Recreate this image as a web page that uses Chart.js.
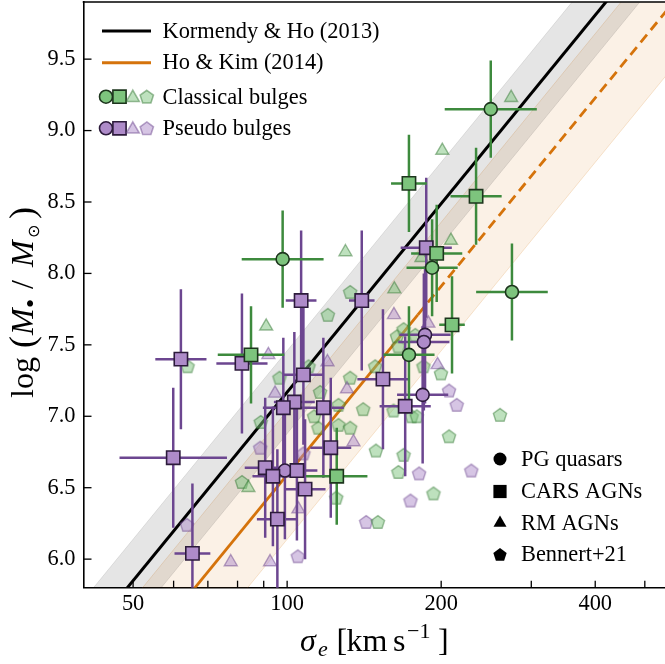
<!DOCTYPE html>
<html>
<head>
<meta charset="utf-8">
<script src="https://cdn.jsdelivr.net/npm/chart.js@4.4.1/dist/chart.umd.min.js"></script>
<style>
  html, body { margin: 0; padding: 0; background: #fff; overflow: hidden; }
  canvas { display: block; }
</style>
</head>
<body>
<canvas id="msigma" width="700" height="664"></canvas>
<script>
// ---- values (sigma in km/s, log M in solar masses) ----

// Kormendy & Ho (2013) and its scatter band
const khSigma = [35, 600];
const khLogM = [5.17, 10.58];
const khBandLo = [4.88, 10.29];
const khBandHi = [5.46, 10.87];

// Ho & Kim (2014): solid over the fitted range, dashed beyond
const hkSolidSigma = [35, 180];
const hkSolidLogM = [4.59, 7.71];
const hkDashSigma = [180, 600];
const hkDashLogM = [7.71, 10.00];
const hkBandSigma = [35, 600];
const hkBandLo = [4.14, 9.55];
const hkBandHi = [5.04, 10.45];

// classical bulges, PG quasars (circles)
const cPgSigma = [250, 98, 192, 275, 173];
const cPgLogM = [9.15, 8.10, 8.04, 7.87, 7.43];
const cPgSigErr = [0.09, 0.08, 0.05, 0.07, 0.05];   // dex
const cPgMErr = [0.34, 0.34, 0.34, 0.34, 0.34];

// classical bulges, CARS AGNs (squares)
const cCarsSigma = [173, 234, 196, 210, 85, 125];
const cCarsLogM = [8.63, 8.54, 8.14, 7.64, 7.43, 6.58];
const cCarsSigErr = [0.035, 0.05, 0.05, 0.025, 0.065, 0.06];
const cCarsMErr = [0.34, 0.34, 0.34, 0.34, 0.34, 0.34];

// pseudo bulges, PG quasars (circles)
const pPgSigma = [186, 185, 184, 99];
const pPgLogM = [7.57, 7.52, 7.15, 6.62];
const pPgSigErr = [0.05, 0.05, 0.05, 0.04];
const pPgMErr = [0.48, 0.48, 0.48, 0.48];

// pseudo bulges, CARS AGNs (squares)
const pCarsSigma = [62.0, 81.6, 106.5, 139.9, 187.0, 107.6, 153.9, 170.1, 117.7, 103.3,
                    98.3, 90.6, 93.8, 104.5, 108.4, 95.7, 121.7, 59.9, 65.3];
const pCarsLogM = [7.40, 7.37, 7.81, 7.81, 8.18, 7.29, 7.26, 7.07, 7.06, 7.10,
                   7.06, 6.64, 6.58, 6.62, 6.49, 6.28, 6.78, 6.71, 6.04];
const pCarsSigErr = [0.05, 0.05, 0.03, 0.025, 0.05, 0.04, 0.05, 0.05, 0.04, 0.04,
                     0.04, 0.04, 0.04, 0.04, 0.04, 0.04, 0.04, 0.105, 0.035];
const pCarsMErr = [0.49, 0.49, 0.49, 0.49, 0.49, 0.49, 0.49, 0.49, 0.49, 0.49,
                   0.49, 0.49, 0.49, 0.49, 0.49, 0.49, 0.49, 0.49, 0.49];

// RM AGNs (triangles, no error bars)
const cRmSigma = [274, 201, 209, 130, 91, 162, 183, 84];
const cRmLogM = [9.23, 8.86, 8.23, 8.15, 7.63, 7.89, 8.11, 6.50];
const pRmSigma = [77.6, 92.6, 161.7, 119.9, 91.9, 94.7, 130.9, 134.8, 105.2, 188.8, 196.8];
const pRmLogM = [5.98, 5.98, 7.71, 7.38, 7.43, 7.16, 7.19, 6.82, 6.35, 7.65, 7.36];

// Bennert+21 (pentagons, no error bars)
const cBenSigma = [63.9, 132.8, 120.1, 96.6, 110.1, 132.8, 148.6, 163.9, 168.9, 165.0,
                   81.6, 140.8, 116.0, 112.9, 126.0, 115.1, 126.0, 132.8, 149.1, 168.9,
                   165.0, 161.4, 175.1, 124.7, 150.4, 88.8, 260.6, 207.2, 179.2, 193.2,
                   199.8, 178.0, 184.7];
const cBenLogM = [7.35, 7.87, 7.71, 7.27, 7.35, 7.27, 7.35, 7.56, 7.61, 7.49,
                  6.54, 7.05, 7.17, 7.00, 7.08, 6.92, 6.94, 6.92, 6.76, 6.73,
                  6.61, 7.04, 7.00, 6.43, 6.26, 6.96, 7.01, 6.86, 7.00, 6.46,
                  7.30, 7.57, 7.35];
const pBenSigma = [63.7, 88.6, 107.6, 104.9, 142.7, 174.2, 207.2, 214.5, 181.1, 229.0];
const pBenLogM = [6.24, 6.78, 6.74, 6.02, 6.26, 6.41, 7.18, 7.08, 6.60, 6.62];

// axis ticks
const xTickVals = [50, 60, 70, 80, 90, 100, 200, 300, 400, 500];
const xLabelVals = [50, 100, 200, 400];
const yTickVals = [6.0, 6.5, 7.0, 7.5, 8.0, 8.5, 9.0, 9.5];

// ---- styling ----
const SERIF = '"Liberation Serif", "DejaVu Serif", serif';
const GREEN_FILL = '#7dc47d', GREEN_EDGE = '#1d351d', GREEN_BAR = '#3d8a3d';
const PURPLE_FILL = '#ae8bc9', PURPLE_EDGE = '#2c1b3b', PURPLE_BAR = '#6c4690';
const ORANGE = '#d5730b';

function pts(xs, ys) {
  return xs.map((x, i) => ({ x: x, y: ys[i] }));
}

// error bar segments separated by gaps
function errorBars(sig, m, sErr, mErr) {
  const out = [];
  sig.forEach((s, i) => {
    const f = Math.pow(10, sErr[i]);
    out.push({ x: s / f, y: m[i] }, { x: s * f, y: m[i] }, { x: null, y: null });
    out.push({ x: s, y: m[i] - mErr[i] }, { x: s, y: m[i] + mErr[i] }, { x: null, y: null });
  });
  return out;
}

function pentagonPath(g, cx, cy, r) {
  g.beginPath();
  for (let k = 0; k < 5; k++) {
    const a = -Math.PI / 2 + k * 2 * Math.PI / 5;
    const px = cx + r * Math.cos(a), py = cy + r * Math.sin(a);
    if (k === 0) g.moveTo(px, py); else g.lineTo(px, py);
  }
  g.closePath();
}

function makePentagon(r, fill, stroke) {
  const c = document.createElement('canvas');
  const size = Math.ceil(2 * r + 4);
  c.width = size; c.height = size;
  const g = c.getContext('2d');
  pentagonPath(g, size / 2, size / 2 + 0.6, r);
  g.fillStyle = fill; g.fill();
  g.lineWidth = 1.4; g.strokeStyle = stroke; g.stroke();
  return c;
}

const LG_FILL = 'rgba(125,196,125,0.5)', LG_EDGE = 'rgba(40,110,40,0.45)';
const LP_FILL = 'rgba(174,139,201,0.5)', LP_EDGE = 'rgba(100,60,135,0.45)';
const pentGreen = makePentagon(7, LG_FILL, LG_EDGE);
const pentPurple = makePentagon(7, LP_FILL, LP_EDGE);

const lightTri = (fill, edge) => ({
  showLine: false, pointStyle: 'triangle', pointRadius: 7.5,
  pointBackgroundColor: fill, pointBorderColor: edge, pointBorderWidth: 1.4, order: 40
});

const datasets = [
  // bands
  { data: pts(hkBandSigma, hkBandHi), borderColor: 'rgba(213,115,11,0.18)', borderWidth: 1,
    pointRadius: 0, fill: { target: 1 }, backgroundColor: 'rgba(213,115,11,0.10)', order: 100 },
  { data: pts(hkBandSigma, hkBandLo), borderColor: 'rgba(213,115,11,0.18)', borderWidth: 1,
    pointRadius: 0, fill: false, order: 100 },
  { data: pts(khSigma, khBandHi), borderColor: 'rgba(0,0,0,0.10)', borderWidth: 1,
    pointRadius: 0, fill: { target: 3 }, backgroundColor: 'rgba(0,0,0,0.10)', order: 99 },
  { data: pts(khSigma, khBandLo), borderColor: 'rgba(0,0,0,0.10)', borderWidth: 1,
    pointRadius: 0, fill: false, order: 99 },
  // relations
  { data: pts(khSigma, khLogM), borderColor: '#000', borderWidth: 3, pointRadius: 0, order: 50 },
  { data: pts(hkSolidSigma, hkSolidLogM), borderColor: ORANGE, borderWidth: 2.8, pointRadius: 0, order: 50 },
  { data: pts(hkDashSigma, hkDashLogM), borderColor: ORANGE, borderWidth: 2.8, borderDash: [10, 6],
    pointRadius: 0, order: 50 },
  // faint samples
  Object.assign({ data: pts(cRmSigma, cRmLogM) }, lightTri(LG_FILL, LG_EDGE)),
  Object.assign({ data: pts(pRmSigma, pRmLogM) }, lightTri(LP_FILL, LP_EDGE)),
  { data: pts(cBenSigma, cBenLogM), showLine: false, pointStyle: pentGreen, order: 41 },
  { data: pts(pBenSigma, pBenLogM), showLine: false, pointStyle: pentPurple, order: 41 },
  // error bars
  { data: errorBars(pCarsSigma, pCarsLogM, pCarsSigErr, pCarsMErr), borderColor: PURPLE_BAR,
    borderWidth: 2.5, pointRadius: 0, spanGaps: false, order: 30 },
  { data: errorBars(pPgSigma, pPgLogM, pPgSigErr, pPgMErr), borderColor: PURPLE_BAR,
    borderWidth: 2.5, pointRadius: 0, spanGaps: false, order: 30 },
  { data: errorBars(cCarsSigma, cCarsLogM, cCarsSigErr, cCarsMErr), borderColor: GREEN_BAR,
    borderWidth: 2.5, pointRadius: 0, spanGaps: false, order: 29 },
  { data: errorBars(cPgSigma, cPgLogM, cPgSigErr, cPgMErr), borderColor: GREEN_BAR,
    borderWidth: 2.5, pointRadius: 0, spanGaps: false, order: 29 },
  // markers
  { data: pts(pCarsSigma, pCarsLogM), showLine: false, pointStyle: 'rect', pointRadius: 9.4,
    pointBackgroundColor: PURPLE_FILL, pointBorderColor: PURPLE_EDGE, pointBorderWidth: 1.6, order: 10 },
  { data: pts(pPgSigma, pPgLogM), showLine: false, pointStyle: 'circle', pointRadius: 6.5,
    pointBackgroundColor: PURPLE_FILL, pointBorderColor: PURPLE_EDGE, pointBorderWidth: 1.6, order: 10 },
  { data: pts(cCarsSigma, cCarsLogM), showLine: false, pointStyle: 'rect', pointRadius: 9.4,
    pointBackgroundColor: GREEN_FILL, pointBorderColor: GREEN_EDGE, pointBorderWidth: 1.6, order: 9 },
  { data: pts(cPgSigma, cPgLogM), showLine: false, pointStyle: 'circle', pointRadius: 6.5,
    pointBackgroundColor: GREEN_FILL, pointBorderColor: GREEN_EDGE, pointBorderWidth: 1.6, order: 9 }
];

function marker(ctx, style, x, y, fill, edge) {
  ctx.save();
  ctx.fillStyle = fill; ctx.strokeStyle = edge; ctx.lineWidth = 1.6;
  ctx.beginPath();
  if (style === 'circle') ctx.arc(x, y, 6.5, 0, 2 * Math.PI);
  else if (style === 'rect') ctx.rect(x - 6.6, y - 6.6, 13.2, 13.2);
  else if (style === 'triangle') {
    ctx.moveTo(x, y - 7.5); ctx.lineTo(x + 6.5, y + 3.75); ctx.lineTo(x - 6.5, y + 3.75); ctx.closePath();
  } else pentagonPath(ctx, x, y + 0.6, 7);
  ctx.fill();
  if (edge) ctx.stroke();
  ctx.restore();
}

// text pieces placed one by one along the baseline
function drawPieces(ctx, pieces) {
  pieces.forEach(p => {
    ctx.font = p.font;
    ctx.fillText(p.t, p.at, p.dy || 0);
  });
}

const decor = {
  id: 'decor',
  afterDraw(chart) {
    const ctx = chart.ctx, a = chart.chartArea;
    const xs = chart.scales.x, ys = chart.scales.y;
    ctx.save();
    ctx.strokeStyle = '#000';
    ctx.lineWidth = 1.6;
    ctx.beginPath(); ctx.moveTo(a.left - 0.8, a.top); ctx.lineTo(a.right, a.top); ctx.stroke();

    // inward ticks
    ctx.lineWidth = 1.3;
    xTickVals.forEach(v => {
      const px = xs.getPixelForValue(v);
      ctx.beginPath(); ctx.moveTo(px, a.bottom); ctx.lineTo(px, a.bottom - 7); ctx.stroke();
    });
    yTickVals.forEach(v => {
      const py = ys.getPixelForValue(v);
      ctx.beginPath(); ctx.moveTo(a.left, py); ctx.lineTo(a.left + 8, py); ctx.stroke();
    });

    // upper-left legend
    const LF = '22.4px ' + SERIF;
    ctx.fillStyle = '#000';
    ctx.textBaseline = 'middle';
    ctx.textAlign = 'left';
    ctx.font = LF;
    const lx = a.left + 18.5, tx = a.left + 79;
    ctx.lineWidth = 3;
    ctx.strokeStyle = '#000';
    ctx.beginPath(); ctx.moveTo(lx, a.top + 29); ctx.lineTo(lx + 49, a.top + 29); ctx.stroke();
    ctx.fillText('Kormendy & Ho (2013)', tx, a.top + 30);
    ctx.strokeStyle = ORANGE;
    ctx.beginPath(); ctx.moveTo(lx, a.top + 60.7); ctx.lineTo(lx + 49, a.top + 60.7); ctx.stroke();
    ctx.fillText('Ho & Kim (2014)', tx, a.top + 61.5);
    const rows = [
      { y: a.top + 94.7, fill: GREEN_FILL, edge: GREEN_EDGE, lf: LG_FILL, le: LG_EDGE, label: 'Classical bulges' },
      { y: a.top + 126.3, fill: PURPLE_FILL, edge: PURPLE_EDGE, lf: LP_FILL, le: LP_EDGE, label: 'Pseudo bulges' }
    ];
    rows.forEach(r => {
      marker(ctx, 'circle', a.left + 22.5, r.y, r.fill, r.edge);
      marker(ctx, 'rect', a.left + 36, r.y, r.fill, r.edge);
      marker(ctx, 'triangle', a.left + 49.3, r.y + 1, r.lf, r.le);
      marker(ctx, 'pent', a.left + 63.3, r.y, r.lf, r.le);
      ctx.fillStyle = '#000';
      ctx.font = LF;
      ctx.fillText(r.label, tx, r.y + 1);
    });

    // lower-right legend (sample symbols)
    const sy = [459, 491.5, 523, 554.5];
    const sl = ['PG quasars', 'CARS AGNs', 'RM AGNs', 'Bennert+21'];
    const ss = ['circle', 'rect', 'triangle', 'pent'];
    sy.forEach((y, i) => {
      marker(ctx, ss[i], 500, y, '#000', null);
      ctx.fillStyle = '#000';
      ctx.font = LF;
      ctx.fillText(sl[i], 521, y + 1);
    });

    // axis titles
    ctx.textBaseline = 'alphabetic';
    const big = '32px ' + SERIF, bigI = 'italic 32px ' + SERIF;
    const sm = '22px ' + SERIF, smI = 'italic 22px ' + SERIF;
    const paren = '36px ' + SERIF;
    ctx.save();
    ctx.translate(0, 651);
    drawPieces(ctx, [
      { t: 'σ', font: bigI, at: 300 }, { t: 'e', font: smI, at: 318, dy: 5 },
      { t: '[', font: big, at: 336.5 }, { t: 'km', font: big, at: 346.5 },
      { t: 's', font: big, at: 393 }, { t: '−1', font: sm, at: 407, dy: -13 },
      { t: ']', font: big, at: 438 }
    ]);
    ctx.restore();

    ctx.save();
    ctx.translate(33, 0);
    ctx.rotate(-Math.PI / 2);
    drawPieces(ctx, [
      { t: 'log', font: big, at: -398 }, { t: '(', font: paren, at: -348, dy: 1 },
      { t: 'M', font: bigI, at: -335 }, { t: '•', font: '26px ' + SERIF, at: -308, dy: 6 },
      { t: '/', font: big, at: -289 },
      { t: 'M', font: bigI, at: -267 }, { t: '⊙', font: '16px "DejaVu Sans"', at: -238, dy: 6 },
      { t: ')', font: paren, at: -219, dy: 1 }
    ]);
    ctx.restore();
    ctx.restore();
  }
};

new Chart(document.getElementById('msigma'), {
  type: 'line',
  data: { datasets: datasets },
  options: {
    responsive: false,
    animation: false,
    events: [],
    layout: { autoPadding: false, padding: { top: 2, right: 30, left: 0, bottom: 0 } },
    plugins: { legend: { display: false }, tooltip: { enabled: false } },
    scales: {
      x: {
        type: 'logarithmic', min: 40, max: 560,
        grid: { display: false, drawTicks: false },
        border: { display: true, color: '#000', width: 1.6 },
        ticks: {
          autoSkip: false, maxRotation: 0, padding: 3, color: '#000',
          font: { family: SERIF, size: 22.4 },
          callback: v => xLabelVals.includes(v) ? String(v) : ''
        },
        afterBuildTicks: s => { s.ticks = xTickVals.map(v => ({ value: v })); },
        afterFit: s => { s.height = 76.3; s.paddingLeft = 0; s.paddingRight = 0; }
      },
      y: {
        type: 'linear', min: 5.8, max: 9.9,
        grid: { display: false, drawTicks: false },
        border: { display: true, color: '#000', width: 1.6 },
        ticks: {
          padding: 8, color: '#000',
          font: { family: SERIF, size: 22.4 },
          callback: v => v.toFixed(1)
        },
        afterBuildTicks: s => { s.ticks = yTickVals.map(v => ({ value: v })); },
        afterFit: s => { s.width = 83.5; s.paddingTop = 0; s.paddingBottom = 0; }
      }
    }
  },
  plugins: [decor]
});
</script>
</body>
</html>
